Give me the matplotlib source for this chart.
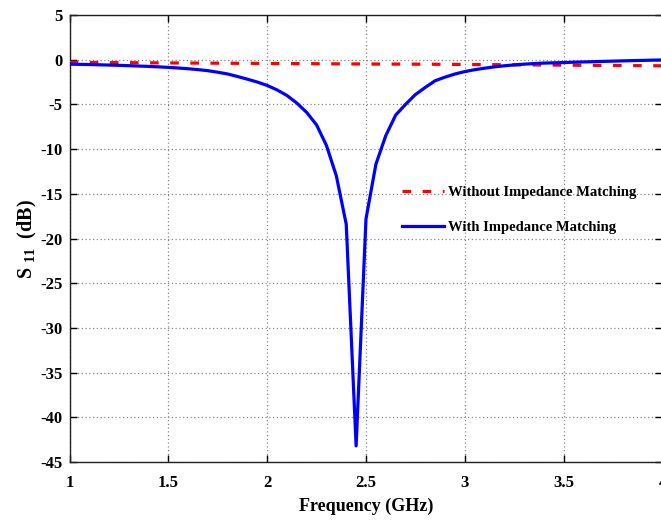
import matplotlib
matplotlib.use("Agg")
import matplotlib.pyplot as plt

# S11 of the antenna with and without the matching network
freq_matched = [1.00, 1.05, 1.10, 1.15, 1.20, 1.25, 1.30, 1.35, 1.40, 1.45,
                1.50, 1.55, 1.60, 1.65, 1.70, 1.75, 1.80, 1.85, 1.90, 1.95,
                2.00, 2.05, 2.10, 2.15, 2.20, 2.25, 2.30, 2.35, 2.40, 2.45,
                2.50, 2.55, 2.60, 2.65, 2.70, 2.75, 2.80, 2.85, 2.90, 2.95,
                3.00, 3.05, 3.10, 3.15, 3.20, 3.25, 3.30, 3.35, 3.40, 3.45,
                3.50, 3.55, 3.60, 3.65, 3.70, 3.75, 3.80, 3.85, 3.90, 3.95,
                4.00]
s11_matched = [-0.50, -0.52, -0.54, -0.57, -0.60, -0.63, -0.67, -0.71, -0.75, -0.80,
               -0.86, -0.93, -1.01, -1.11, -1.23, -1.40, -1.60, -1.88, -2.18, -2.50,
               -2.88, -3.38, -4.00, -4.85, -5.90, -7.30, -9.60, -13.00, -18.40, -43.20,
               -17.80, -11.70, -8.50, -6.20, -5.00, -3.90, -3.10, -2.35, -1.95, -1.60,
               -1.33, -1.12, -0.95, -0.80, -0.68, -0.58, -0.50, -0.43, -0.38, -0.35,
               -0.32, -0.28, -0.25, -0.22, -0.19, -0.16, -0.13, -0.10, -0.08, -0.05,
               -0.03]

freq_unmatched = [1.00, 1.25, 1.50, 1.75, 2.00, 2.25, 2.50, 2.75, 3.00, 3.25, 3.50, 3.75, 4.00]
s11_unmatched = [-0.30, -0.33, -0.36, -0.39, -0.42, -0.45, -0.48, -0.50, -0.53, -0.57, -0.61, -0.65, -0.68]

x_ticks = [1, 1.5, 2, 2.5, 3, 3.5, 4]
x_tick_labels = ["1", "1.5", "2", "2.5", "3", "3.5", "4"]
y_ticks = [5, 0, -5, -10, -15, -20, -25, -30, -35, -40, -45]

plt.rcParams["font.family"] = ["Liberation Serif", "DejaVu Serif"]
plt.rcParams["font.weight"] = "bold"
plt.rcParams["mathtext.fontset"] = "custom"
plt.rcParams["mathtext.rm"] = "Liberation Serif:bold"
plt.rcParams["mathtext.bf"] = "Liberation Serif:bold"
plt.rcParams["mathtext.default"] = "bf"

fig = plt.figure(figsize=(6.61, 5.21), dpi=100)
ax = fig.add_axes([0.1053, 0.1132, 0.8968, 0.858])

lw = 2.3
ax.plot(freq_unmatched, s11_unmatched, color="#ff0000", lw=lw,
        dashes=(2.7, 3.6), label="Without Impedance Matching", zorder=3)
ax.plot(freq_matched, s11_matched, color="#0000ff", lw=lw,
        label="With Impedance Matching", zorder=4)

ax.set_xlim(1, 4)
ax.set_ylim(-45, 5)
ax.set_xticks(x_ticks)
ax.set_xticklabels(x_tick_labels)
ax.set_yticks(y_ticks)
ax.set_yticklabels([str(v) for v in y_ticks])
ax.tick_params(direction="in", top=True, right=True, length=5, width=1,
               labelsize=12)
ax.tick_params(axis="x", pad=9)
ax.tick_params(axis="y", pad=5)
for lab in ax.get_xticklabels() + ax.get_yticklabels():
    lab.set_fontweight("bold")

ax.grid(True, linestyle=(0, (1, 2)), color="#888888", linewidth=0.9)
for sp in ax.spines.values():
    sp.set_linewidth(1.0)
    sp.set_color("#222222")

ax.set_xlabel("Frequency (GHz)", fontsize=13, fontweight="bold", labelpad=5)
ax.set_ylabel("S$_{\\ 11}$  (dB)", fontsize=14.5, fontweight="bold", labelpad=1)

leg = ax.legend(loc="upper left", bbox_to_anchor=(0.56, 0.617), frameon=False,
                fontsize=10.5, handlelength=2.9, handletextpad=0.3,
                labelspacing=1.45, borderpad=0, borderaxespad=0)
for t in leg.get_texts():
    t.set_fontweight("bold")

fig.savefig("out.png", dpi=100)
